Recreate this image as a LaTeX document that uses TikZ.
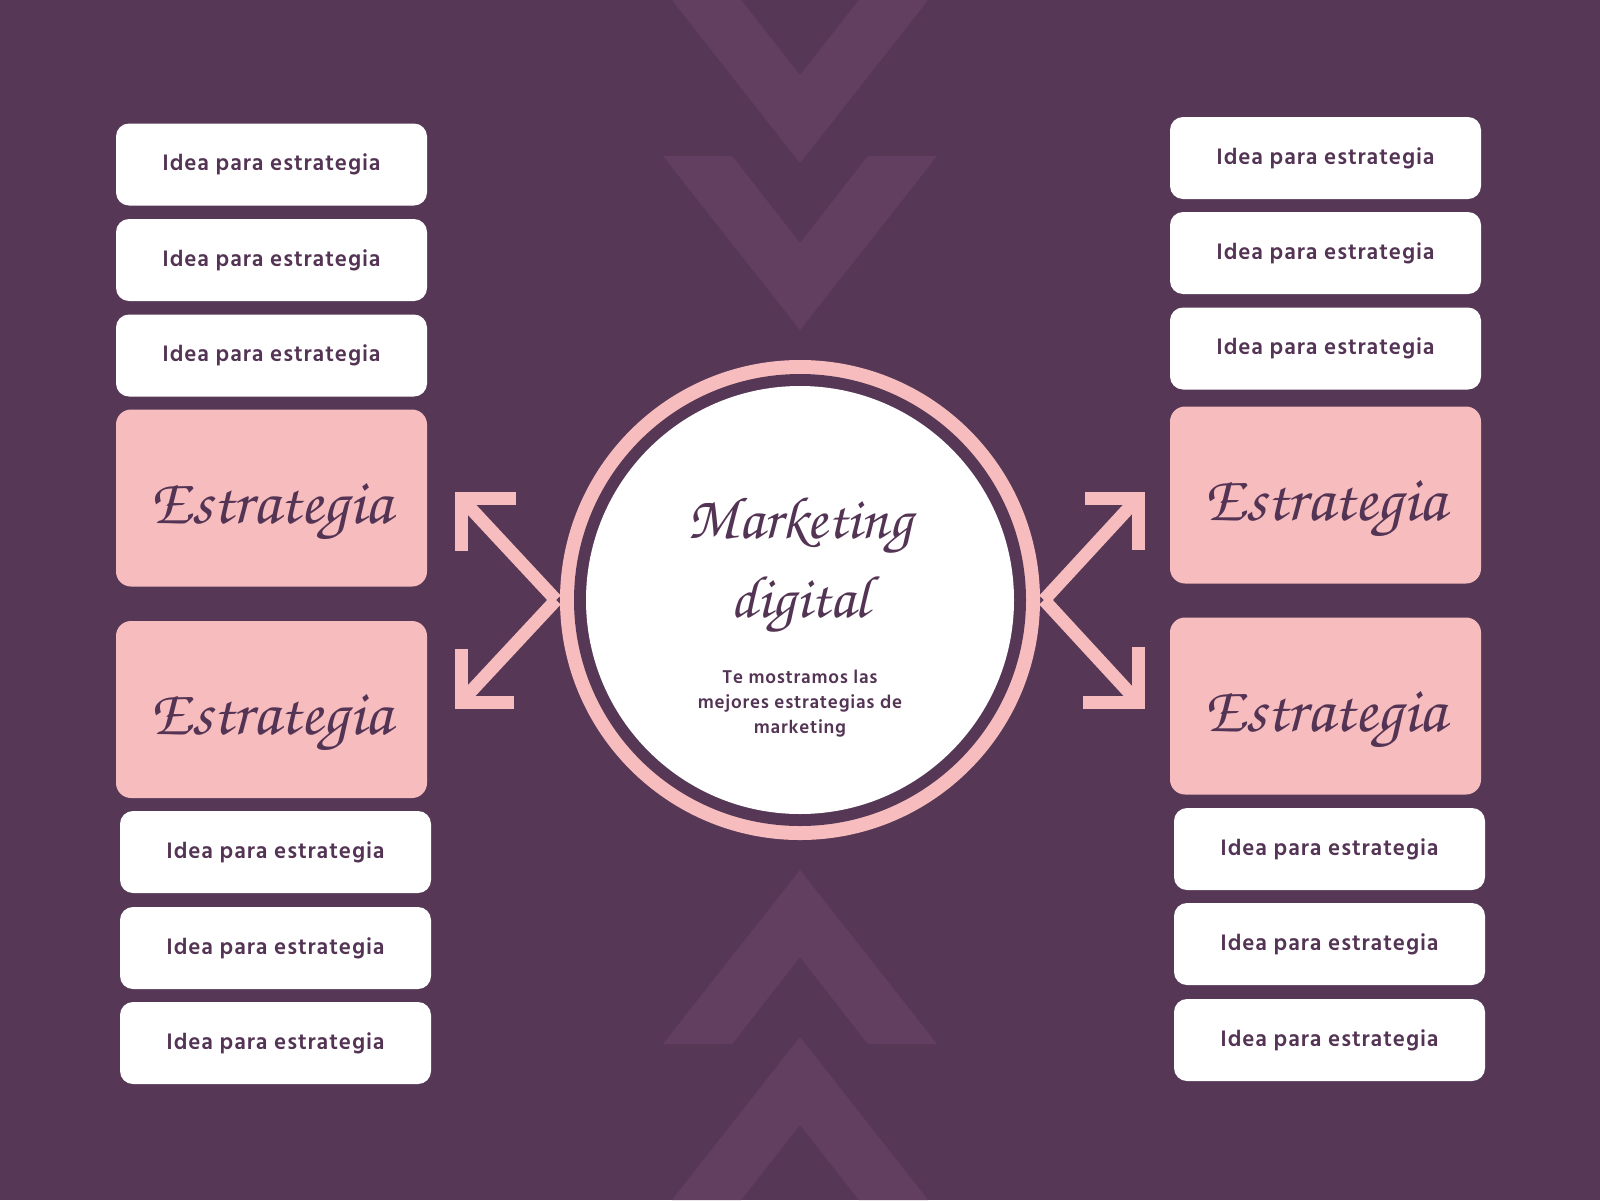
\documentclass[tikz,border=0pt]{standalone}
\usepackage[T1,TU]{fontenc}
\usepackage{fontspec}
\newfontfamily\hind[LetterSpace=4]{Hind Madurai}
\newcommand\scriptfnt{\fontencoding{T1}\fontfamily{pzc}\fontseries{mb}\fontshape{it}\selectfont}
\newcommand\stxt[1]{\raisebox{-25pt}[0pt][0pt]{#1}}
\definecolor{bgc}{RGB}{86,56,86}
\definecolor{chev}{RGB}{98,63,97}
\definecolor{pinkc}{RGB}{247,188,190}
\definecolor{txtc}{RGB}{84,52,84}
\tikzset{
  ideabox/.style={fill=white, rounded corners=13pt, minimum width=311pt, minimum height=82pt,
    inner sep=0pt, text=txtc, font=\hind\bfseries\fontsize{23}{27}\selectfont},
  stratbox/.style={fill=pinkc, rounded corners=15pt, minimum width=311pt, minimum height=177pt,
    inner sep=0pt, text=txtc, font=\scriptfnt\fontsize{65}{70}\selectfont},
  arr/.style={draw=pinkc, line width=13pt, line cap=butt, line join=miter},
  chevron/.style={fill=chev},
  disc/.style={circle, inner sep=0pt, draw=none}
}
\begin{document}
\begin{tikzpicture}[x=1pt,y=-1pt]
\useasboundingbox (0,0) rectangle (1600,1200);
\fill[bgc] (0,0) rectangle (1600,1200);
% background chevrons
\fill[chevron] (672,0) -- (800,163) -- (928,0) -- (859,0) -- (800,75) -- (741,0) -- cycle;
\fill[chevron] (663,156) -- (800,330) -- (937,156) -- (868,156) -- (800,243) -- (732,156) -- cycle;
\fill[chevron] (663,1044) -- (800,870) -- (937,1044) -- (868,1044) -- (800,957) -- (732,1044) -- cycle;
\fill[chevron] (672,1200) -- (800,1037) -- (928,1200) -- (859,1200) -- (800,1125) -- (741,1200) -- cycle;
% arrow coordinates
\coordinate (jl) at (556,600);
\coordinate (jr) at (1044,600);
\coordinate (tul) at (461,498);
\coordinate (tll) at (461,702);
\coordinate (tur) at (1138,498);
\coordinate (tlr) at (1138,702);
\draw[arr] (jl) -- (tul);
\draw[arr] (jl) -- (tll);
\draw[arr] (jr) -- (tur);
\draw[arr] (jr) -- (tlr);
\draw[arr] ([xshift=55pt]tul) -- (tul) -- ([yshift=-53pt]tul);
\draw[arr] ([xshift=53pt]tll) -- (tll) -- ([yshift=53pt]tll);
\draw[arr] ([xshift=-53pt]tur) -- (tur) -- ([yshift=-52pt]tur);
\draw[arr] ([xshift=-55pt]tlr) -- (tlr) -- ([yshift=55pt]tlr);
% central circle
\node[disc, fill=pinkc, minimum size=480pt] (ring) at (800,600) {};
\node[disc, fill=bgc, minimum size=452pt] (gap) at (800,600) {};
\node[disc, fill=white, minimum size=428pt] (core) at (800,600) {};
\node[text=txtc, font=\scriptfnt\fontsize{60}{66}\selectfont] (mk) at (800,526) {Marketing};
\node[text=txtc, font=\scriptfnt\fontsize{60}{66}\selectfont] (dg) at (800,605) {digital};
\node[text=txtc, align=center, font=\hind\bfseries\fontsize{19}{25}\selectfont] (sub) at (800,704)
  {Te mostramos las\\mejores estrategias de\\marketing};
% left column
\node[ideabox] (l1) at (271.5,164.5) {Idea para estrategia};
\node[ideabox] (l2) at (271.5,260) {Idea para estrategia};
\node[ideabox] (l3) at (271.5,355.5) {Idea para estrategia};
\node[stratbox] (lp1) at (271.5,498) {\stxt{Estrategia}};
\node[stratbox] (lp2) at (271.5,709.5) {\stxt{Estrategia}};
\node[ideabox] (l4) at (275.5,852) {Idea para estrategia};
\node[ideabox] (l5) at (275.5,948) {Idea para estrategia};
\node[ideabox] (l6) at (275.5,1043) {Idea para estrategia};
% right column
\node[ideabox] (r1) at (1325.5,158) {Idea para estrategia};
\node[ideabox] (r2) at (1325.5,253) {Idea para estrategia};
\node[ideabox] (r3) at (1325.5,348.5) {Idea para estrategia};
\node[stratbox] (rp1) at (1325.5,495) {\stxt{Estrategia}};
\node[stratbox] (rp2) at (1325.5,706) {\stxt{Estrategia}};
\node[ideabox] (r4) at (1329.5,849) {Idea para estrategia};
\node[ideabox] (r5) at (1329.5,944) {Idea para estrategia};
\node[ideabox] (r6) at (1329.5,1040) {Idea para estrategia};
\end{tikzpicture}
\end{document}
